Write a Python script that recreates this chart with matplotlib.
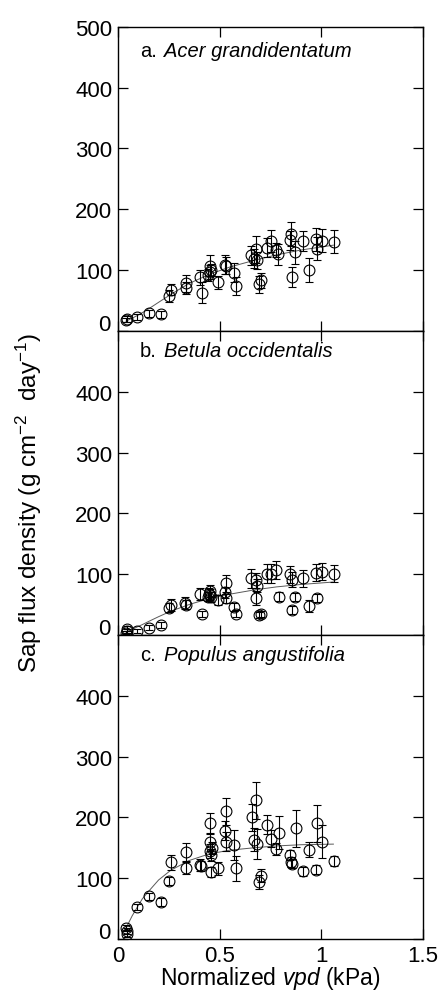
import matplotlib
matplotlib.use('Agg')
import matplotlib.pyplot as plt
from matplotlib.ticker import FixedFormatter

plt.rcParams['font.family'] = ['Liberation Sans', 'DejaVu Sans']
plt.rcParams['mathtext.fontset'] = 'custom'
plt.rcParams['mathtext.rm'] = 'Liberation Sans'
plt.rcParams['mathtext.it'] = 'Liberation Sans:italic'

# a. Acer grandidentatum
a_x = [0.040, 0.045, 0.095, 0.154, 0.211, 0.252, 0.261, 0.334, 0.334, 0.403,
       0.415, 0.445, 0.452, 0.458, 0.452, 0.493, 0.526, 0.534, 0.572, 0.580,
       0.657, 0.669, 0.677, 0.682, 0.694, 0.702, 0.731, 0.751, 0.780, 0.789,
       0.846, 0.851, 0.854, 0.871, 0.912, 0.941, 0.972, 0.980, 1.002, 1.062]
a_y = [18, 20, 23, 29, 27, 57, 68, 78, 70, 88,
       63, 92, 97, 100, 107, 80, 109, 107, 96, 74,
       124, 119, 134, 116, 77, 83, 137, 148, 133, 126,
       149, 159, 89, 129, 148, 100, 151, 135, 148, 147]
a_err = [4, 5, 5, 6, 6, 10, 9, 14, 10, 12,
         17, 10, 12, 10, 17, 11, 16, 14, 15, 15,
         15, 16, 22, 14, 14, 12, 16, 18, 11, 17,
         16, 20, 16, 19, 16, 20, 19, 19, 19, 19]

# b. Betula occidentalis
b_x = [0.040, 0.043, 0.046, 0.095, 0.154, 0.211, 0.252, 0.261, 0.330, 0.336,
       0.403, 0.415, 0.445, 0.452, 0.455, 0.460, 0.450, 0.493, 0.526, 0.530,
       0.534, 0.572, 0.580, 0.657, 0.677, 0.682, 0.677, 0.694, 0.702, 0.731,
       0.751, 0.780, 0.790, 0.846, 0.854, 0.854, 0.871, 0.912, 0.941, 0.972,
       0.980, 1.002, 1.062]
b_y = [4, 7, 10, 7, 12, 16, 45, 49, 52, 50,
       67, 34, 63, 72, 66, 62, 68, 58, 70, 85,
       60, 46, 35, 93, 90, 81, 61, 33, 35, 101,
       101, 107, 63, 100, 91, 41, 62, 93, 48, 102,
       61, 104, 101]
b_err = [3, 3, 4, 3, 4, 5, 8, 10, 10, 8,
         10, 5, 8, 10, 9, 8, 10, 8, 9, 14,
         8, 7, 6, 15, 12, 11, 11, 5, 5, 15,
         15, 15, 7, 14, 12, 7, 7, 14, 10, 14,
         7, 14, 14]

# c. Populus angustifolia
c_x = [0.040, 0.043, 0.046, 0.095, 0.154, 0.211, 0.252, 0.261, 0.334, 0.334,
       0.403, 0.410, 0.452, 0.452, 0.455, 0.460, 0.462, 0.460, 0.493, 0.526,
       0.530, 0.530, 0.572, 0.580, 0.661, 0.677, 0.669, 0.682, 0.694, 0.702,
       0.731, 0.751, 0.780, 0.790, 0.846, 0.850, 0.854, 0.874, 0.912, 0.941,
       0.972, 0.980, 1.002, 1.062]
c_y = [18, 13, 9, 53, 70, 61, 95, 126, 143, 117,
       122, 120, 191, 159, 145, 138, 149, 110, 116, 178,
       210, 160, 155, 116, 200, 228, 163, 156, 94, 104,
       188, 165, 148, 175, 138, 126, 124, 182, 111, 147,
       114, 190, 160, 128]
c_err = [5, 5, 5, 5, 6, 6, 7, 12, 15, 10,
         10, 8, 16, 14, 12, 10, 10, 8, 10, 16,
         22, 16, 25, 21, 22, 30, 19, 25, 12, 11,
         16, 14, 10, 27, 8, 8, 8, 30, 8, 12,
         7, 30, 27, 8]

# fitted curves
fit_x = [0.04, 0.07, 0.10, 0.12, 0.15, 0.20, 0.26, 0.35, 0.45, 0.55, 0.67, 0.78, 0.90, 1.06]
fit_a = [16, 21, 26, 30, 36, 47, 60, 78, 93, 105, 116, 125, 133, 141]
fit_b = [5, 9, 14, 17, 22, 30, 39, 50, 60, 67, 74, 79, 83, 87]
fit_c = [18, 38, 55, 66, 78, 97, 113, 129, 140, 146, 150, 153, 155, 156]

letters = ['a.', 'b.', 'c.']
species = ['Acer grandidentatum', 'Betula occidentalis', 'Populus angustifolia']

fig, axes = plt.subplots(3, 1, figsize=(4.4, 9.95), dpi=100, sharex=True)
fig.subplots_adjust(left=0.268, right=0.961, top=0.972, bottom=0.0553, hspace=0)

data = [(a_x, a_y, a_err, fit_a), (b_x, b_y, b_err, fit_b), (c_x, c_y, c_err, fit_c)]
title_y = [0.921, 0.934, 0.937]

for i, ax in enumerate(axes):
    x, y, err, fit = data[i]
    ax.plot(fit_x, fit, color='0.35', lw=0.7, zorder=1)
    ax.errorbar(x, y, yerr=err, fmt='o', mfc='none', mec='black', ecolor='black',
                ms=7.8, mew=0.8, elinewidth=0.8, capsize=3, capthick=0.8, zorder=2)
    ax.set_xlim(0, 1.5)
    ax.set_ylim(0, 500)
    yt = [0, 100, 200, 300, 400, 500] if i == 0 else [0, 100, 200, 300, 400]
    ax.set_yticks(yt)
    ax.yaxis.set_major_formatter(FixedFormatter([''] + [str(v) for v in yt[1:]]))
    # zero label sits a little above the bottom spine
    ax.annotate('0', xy=(0, 0), xycoords=('axes fraction', 'data'),
                xytext=(-5, 4.5), textcoords='offset points',
                ha='right', va='center', fontsize=16)
    ax.set_xticks([0, 0.5, 1, 1.5])
    ax.set_xticklabels(['0', '0.5', '1', '1.5'])
    ax.tick_params(direction='in', top=True, right=True, length=7, width=0.9,
                   labelsize=16, pad=4)
    for s in ax.spines.values():
        s.set_linewidth(1.0)
    ax.text(0.072, title_y[i], letters[i], transform=ax.transAxes,
            fontsize=14.5, va='center')
    ax.text(0.152, title_y[i], species[i], transform=ax.transAxes,
            fontsize=14.5, va='center', style='italic')

axes[2].set_xlabel('Normalized $\\mathit{vpd}$ (kPa)', fontsize=16.5, labelpad=-1)
fig.text(0.066, 0.495, 'Sap flux density (g cm$^{-2}$  day$^{-1}$)',
         rotation=90, ha='center', va='center', fontsize=17.5)

fig.savefig('out.png', dpi=100)
